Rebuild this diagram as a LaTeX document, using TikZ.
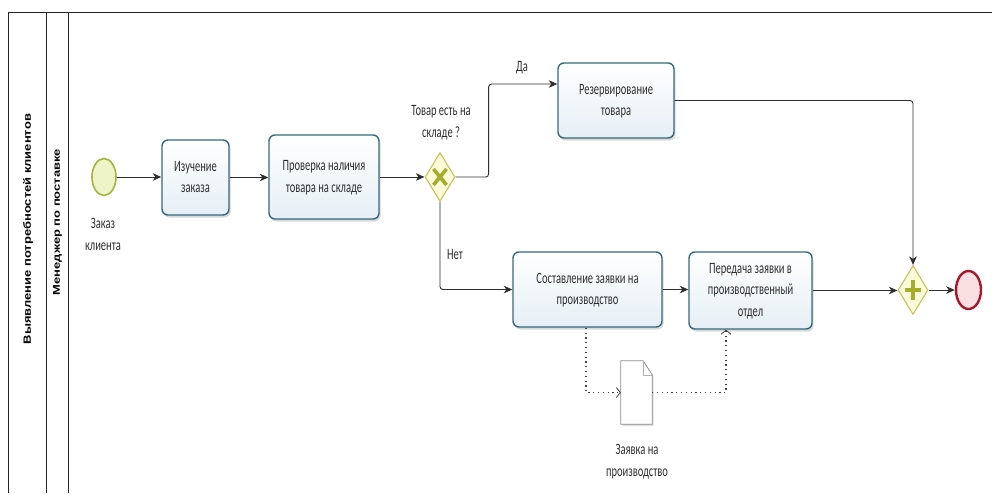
\documentclass[tikz,border=0pt]{standalone}
\usepackage{graphicx}
\usepackage{fontspec}
\setmainfont{Carlito}
\newfontfamily\arialb{Liberation Sans}
\usetikzlibrary{arrows.meta,shapes.geometric,shadows,calc}
\definecolor{taskborder}{HTML}{356A7E}
\definecolor{taskfill}{HTML}{E6EFF5}
\definecolor{gwborder}{HTML}{C9C46A}
\definecolor{gwfill}{HTML}{FBFAD9}
\definecolor{gwmarkc}{HTML}{A5AE2C}
\definecolor{startb}{HTML}{A3B43F}
\definecolor{startf}{HTML}{EFF3C8}
\definecolor{endb}{HTML}{A31B2B}
\definecolor{endf}{HTML}{F8E0E2}
\definecolor{txt}{HTML}{2E2E2E}
\newcommand\vtxt[1]{\scalebox{1}[1.5]{\fontsize{10.5}{14.3}\selectfont\begin{tabular}{@{}c@{}}#1\end{tabular}}}
\newsavebox\poolbox
\newsavebox\lanebox
\begin{document}
\sbox\poolbox{\arialb\bfseries\fontsize{10}{12}\selectfont Выявление потребностей клиентов}%
\sbox\lanebox{\arialb\bfseries\fontsize{10}{12}\selectfont Менеджер по поставке}%
\pgfmathsetmacro\poolsx{230/\wd\poolbox}%
\begin{tikzpicture}[x=1pt,y=-1pt,
  task/.style={draw=taskborder, line width=1.4pt, rounded corners=6pt, top color=white, bottom color=taskfill, inner sep=0pt, text=txt,
    drop shadow={shadow xshift=1.5pt, shadow yshift=-2.5pt, opacity=0.15, fill=black}},
  gw/.style={diamond, draw=gwborder, fill=gwfill, line width=1.2pt, inner sep=0pt, minimum width=30pt, minimum height=49pt},
  gwx/.style={draw=gwmarkc, line width=3.6pt},
  startev/.style={ellipse, draw=startb, fill=startf, line width=1.6pt, inner sep=0pt, minimum width=24pt, minimum height=37pt},
  endev/.style={ellipse, draw=endb, fill=endf, line width=2.4pt, inner sep=0pt, minimum width=25pt, minimum height=38pt},
  flow/.style={draw=black!82, line width=0.9pt, rounded corners=3pt, -{Stealth[length=8.5pt,width=7.5pt,inset=2.5pt]}},
  assoc/.style={draw=black!75, line width=1.1pt, dash pattern=on 1.2pt off 3.6pt, -{Straight Barb[length=4pt,width=10pt,line width=0.8pt]}},
  lbl/.style={text=txt, inner sep=0pt},
  lane/.style={draw=black!85, line width=0.8pt}]
\useasboundingbox (0,0) rectangle (992,493);
% pool and lane
\draw[lane] (992,12) -- (8,12) -- (8,493);
\draw[lane] (46,12) -- (46,493);
\draw[lane] (68,12) -- (68,493);
\node[rotate=90, inner sep=0pt] (pool) at (28,229) {\scalebox{\poolsx}[1.05]{\usebox\poolbox}};
\node[rotate=90, inner sep=0pt] (lanel) at (57.5,222) {\scalebox{\poolsx}[0.98]{\usebox\lanebox}};
% events
\node[startev] (start) at (104,177) {};
\node[lbl] (startl) at (103,235) {\vtxt{Заказ\\клиента}};
\node[endev] (end) at (968.5,290) {};
% tasks
\node[task, minimum width=67pt, minimum height=75pt] (t1) at (195.5,177.5) {\vtxt{Изучение\\заказа}};
\node[task, minimum width=110pt, minimum height=84pt] (t2) at (324,177) {\vtxt{Проверка наличия\\товара на складе}};
\node[task, minimum width=116pt, minimum height=75pt] (t3) at (616,100.5) {\vtxt{Резервирование\\товара}};
\node[task, minimum width=149pt, minimum height=75pt] (t4) at (587.5,289.5) {\vtxt{Составление заявки на\\производство}};
\node[task, minimum width=123pt, minimum height=77pt] (t5) at (750.5,290.5) {\vtxt{Передача заявки в\\производственный\\отдел}};
% gateways
\node[gw] (gw1) at (440,177) {};
\draw[gwx] ($(gw1.center)+(-6.5,-8)$) -- ($(gw1.center)+(6.5,8)$);
\draw[gwx] ($(gw1.center)+(-6.5,8)$) -- ($(gw1.center)+(6.5,-8)$);
\node[lbl] (gw1l) at (441,122) {\vtxt{Товар есть на\\складе ?}};
\node[gw] (gw2) at (913,290) {};
\draw[gwx, line width=4pt] ($(gw2.center)+(-8,0)$) -- ($(gw2.center)+(8,0)$);
\draw[gwx, line width=4pt] ($(gw2.center)+(0,-10)$) -- ($(gw2.center)+(0,10)$);
% data object
\node[minimum width=31pt, minimum height=63pt, inner sep=0pt] (data) at (636.5,392.5) {};
\draw[draw=black!45, fill=white, line width=0.8pt, drop shadow={shadow xshift=1.5pt, shadow yshift=-2pt, opacity=0.12, fill=black}]
  (data.north west) -- ([xshift=-9pt]data.north east) -- ([yshift=-14pt]data.north east) -- (data.south east) -- (data.south west) -- cycle;
\draw[draw=black!30, line width=0.6pt] ([xshift=-9pt]data.north east) -- ([xshift=-9pt,yshift=-14pt]data.north east) -- ([yshift=-14pt]data.north east);
\node[lbl] (datal) at (637,461) {\vtxt{Заявка на\\производство}};
% flows
\draw[flow] (start.east) -- (t1.west |- start.east);
\draw[flow] (t1.east) -- (t2.west |- t1.east);
\draw[flow] (t2.east) -- (gw1.west);
\draw[flow] (gw1.east) -- ++(33,0) |- ([yshift=16.5pt]t3.west);
\node[lbl] (yes) at (522,67) {\vtxt{Да}};
\draw[flow] (t3.east) -| (gw2.north);
\draw[flow] (gw1.south) |- (t4.west);
\node[lbl] (no) at (455,255) {\vtxt{Нет}};
\draw[flow] (t4.east) -- (t5.west |- t4.east);
\draw[flow] (t5.east) -- (gw2.west |- t5.east);
\draw[flow] (gw2.east) -- (end.west);
% associations
\draw[assoc] ([xshift=-1.5pt]t4.south) |- (data.west);
\draw[assoc] (data.east) -| ([xshift=-24.5pt]t5.south);
\end{tikzpicture}
\end{document}
